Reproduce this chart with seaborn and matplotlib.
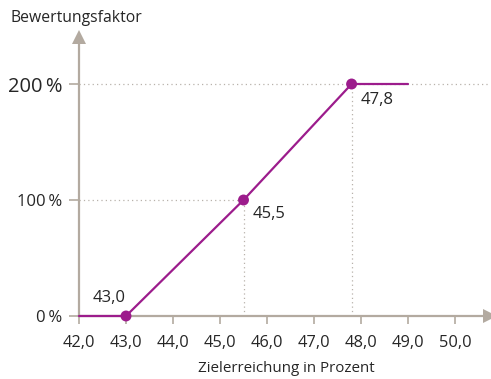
import matplotlib
matplotlib.use("Agg")
import matplotlib.pyplot as plt
import seaborn as sns
import pandas as pd

# Bewertungskurve: Zielerreichung -> Bewertungsfaktor
zielerreichung = [42.0, 43.0, 45.5, 47.8, 49.0]
faktor = [0, 0, 100, 200, 200]
stuetz_x = [43.0, 45.5, 47.8]
stuetz_y = [0, 100, 200]
stuetz_labels = ["43,0", "45,5", "47,8"]
x_ticks = [42, 43, 44, 45, 46, 47, 48, 49, 50]
x_ticklabels = ["42,0", "43,0", "44,0", "45,0", "46,0", "47,0", "48,0", "49,0", "50,0"]
y_ticks = [0, 100, 200]
y_ticklabels = ["0\u2009%", "100\u2009%", "200\u2009%"]

sns.set_style("white")
plt.rcParams["font.family"] = ["Open Sans", "DejaVu Sans"]

PURPLE = "#9c1c8c"
AXIS = "#b3aaa0"
GRID = "#b8b2ab"
TEXT = "#262626"

W, H = 491, 379
fig = plt.figure(figsize=(W / 100, H / 100), dpi=100)
ax = fig.add_axes([79 / W, 1 - 316 / H, (490 - 79) / W, (316 - 37) / H])
ax.set_xlim(42, 42 + (490 - 79) / 47.0)
ax.set_ylim(0, 200 + (84 - 37) / 1.16)

curve = pd.DataFrame({"x": zielerreichung, "y": faktor})
points = pd.DataFrame({"x": stuetz_x, "y": stuetz_y})

# Hilfslinien
ax.plot([42, stuetz_x[1]], [100, 100], ls=(0, (1, 2.5)), color=GRID, lw=0.9, zorder=1)
ax.plot([42, ax.get_xlim()[1] - 0.05], [200, 200], ls=(0, (1, 2.5)), color=GRID, lw=0.9, zorder=1)
for xv, yv in zip(stuetz_x[1:], stuetz_y[1:]):
    ax.plot([xv, xv], [0, yv], ls=(0, (1, 2.5)), color=GRID, lw=0.9, zorder=1)

sns.lineplot(data=curve, x="x", y="y", ax=ax, color=PURPLE, lw=1.6, zorder=4)
sns.scatterplot(data=points, x="x", y="y", ax=ax, color=PURPLE, s=62,
                edgecolor="none", zorder=5)
for coll in ax.collections:
    coll.set_clip_on(False)
for line in ax.lines:
    line.set_clip_on(False)

# Beschriftung der Stützpunkte
offsets = [(-17, 18, "center"), (9, -14, "left"), (9, -16, "left")]
for xv, yv, lab, (dx, dy, ha) in zip(stuetz_x, stuetz_y, stuetz_labels, offsets):
    ax.annotate(lab, (xv, yv), xytext=(dx, dy), textcoords="offset pixels",
                ha=ha, va="center", fontsize=12, color=TEXT)

# Achsen
for s in ["top", "right"]:
    ax.spines[s].set_visible(False)
for s in ["left", "bottom"]:
    ax.spines[s].set_color(AXIS)
    ax.spines[s].set_linewidth(1.6)
    ax.spines[s].set_zorder(3)

ax.set_xticks(x_ticks)
ax.set_xticklabels(x_ticklabels)
ax.set_yticks(y_ticks)
ax.set_yticklabels(y_ticklabels)
ax.tick_params(axis="x", length=5.5, width=1.2, color=AXIS, labelsize=11.8,
               labelcolor=TEXT, pad=8, direction="out", bottom=True)
ax.tick_params(axis="y", length=7, width=1.2, color=AXIS, labelsize=12,
               labelcolor=TEXT, pad=5, direction="out", left=True)
ax.get_yticklabels()[2].set_fontsize(14.5)
ax.set_xlabel("")
ax.set_ylabel("")

# Pfeilspitzen
ax.plot(1, 0, marker=">", markersize=10, color=AXIS, transform=ax.transAxes,
        clip_on=False, zorder=3, markeredgewidth=0)
ax.plot(0, 1, marker="^", markersize=10, color=AXIS, transform=ax.transAxes,
        clip_on=False, zorder=3, markeredgewidth=0)

fig.text(10 / W, 1 - 18 / H, "Bewertungsfaktor", ha="left", va="center",
         fontsize=11.3, color=TEXT)
fig.text(286 / W, 1 - 368 / H, "Zielerreichung in Prozent", ha="center",
         va="center", fontsize=10.9, color=TEXT)

fig.savefig("out.png", dpi=100)
